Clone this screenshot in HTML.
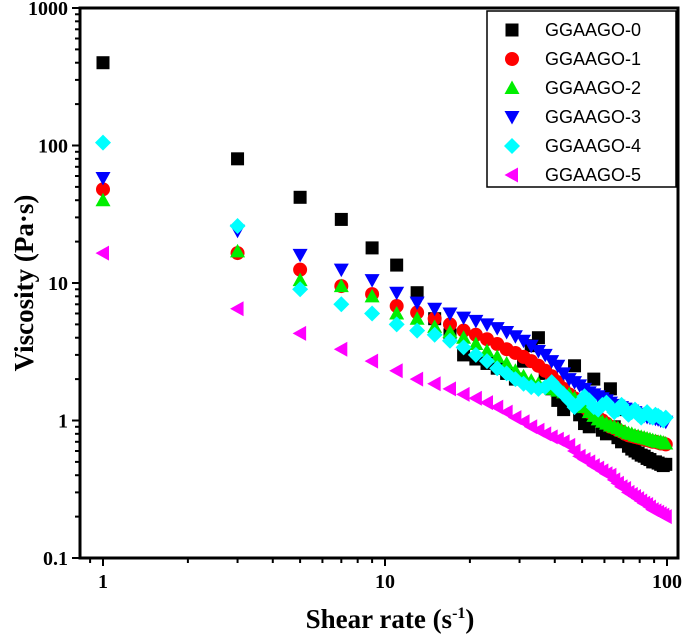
<!DOCTYPE html>
<html><head><meta charset="utf-8"><style>
html,body{margin:0;padding:0;background:#fff;}
svg{display:block;}
text{font-family:"Liberation Serif",serif;font-weight:bold;fill:#000;}
.leg{font-family:"Liberation Sans",sans-serif;font-weight:normal;font-size:18px;}
</style></head><body>
<svg id="chart" width="685" height="635" xmlns="http://www.w3.org/2000/svg"></svg>
<script>
const shearRates = [1,3,5,7,9,11,13,15,17,19,21,23,25,27,29,31,33,35,37,39,41,43,45,47,49,51,53,55,57,59,61,63,65,67,69,71,73,75,77,79,81,83,85,87,89,91,93,95,97,99];
const seriesNames = ["GGAAGO-0","GGAAGO-1","GGAAGO-2","GGAAGO-3","GGAAGO-4","GGAAGO-5"];
const g0 = [400,80,42,29,18,13.5,8.5,5.5,4.2,3.0,2.8,2.6,2.4,2.2,2.0,2.7,3.5,4.0,2.2,1.7,1.4,1.2,1.5,2.5,1.1,0.95,0.9,2.0,1.0,0.85,0.8,1.7,0.9,0.75,0.7,1.2,0.65,0.62,0.6,0.58,0.56,0.55,0.53,0.52,0.5,0.5,0.49,0.48,0.47,0.48];
const g1 = [48,16.5,12.5,9.5,8.3,6.8,6.1,5.5,5,4.5,4.2,3.9,3.6,3.3,3.1,2.9,2.7,2.5,2.3,2.1,1.9,1.7,1.55,1.45,1.35,1.25,1.15,1.1,1.05,1.0,0.95,0.9,0.88,0.85,0.83,0.8,0.78,0.77,0.76,0.75,0.74,0.73,0.72,0.71,0.7,0.7,0.69,0.68,0.68,0.67];
const g2 = [40,17,10.5,9.5,8,6,5.5,4.8,4.4,4,3.6,3.2,2.9,2.6,2.3,2.1,1.95,1.85,1.75,1.7,1.65,1.6,1.55,1.45,1.35,1.25,1.15,1.08,1.02,0.98,0.95,0.92,0.9,0.88,0.85,0.83,0.81,0.8,0.78,0.77,0.76,0.75,0.74,0.73,0.72,0.71,0.7,0.7,0.69,0.68];
const g3 = [58,24,16,12.5,10.5,8.5,7.2,6.5,6,5.6,5.3,5,4.7,4.4,4.1,3.8,3.5,3.2,3,2.7,2.5,2.2,2.0,1.9,1.8,1.7,1.6,1.55,1.5,1.45,1.4,1.35,1.3,1.28,1.25,1.22,1.2,1.18,1.15,1.12,1.1,1.08,1.06,1.05,1.04,1.03,1.02,1.0,1.0,0.98];
const g4 = [105,26,9,7,6,5,4.5,4.2,3.8,3.4,3,2.7,2.4,2.2,2.0,1.85,1.75,1.7,1.75,1.9,1.7,1.55,1.4,1.25,1.35,1.5,1.4,1.25,1.2,1.3,1.35,1.25,1.15,1.2,1.3,1.2,1.1,1.15,1.2,1.1,1.05,1.1,1.15,1.08,1.05,1.1,1.08,1.05,1.0,1.05];
const g5 = [16.5,6.5,4.3,3.3,2.7,2.3,2.0,1.85,1.7,1.55,1.45,1.35,1.25,1.15,1.05,0.98,0.9,0.85,0.8,0.76,0.73,0.7,0.66,0.6,0.55,0.52,0.5,0.47,0.45,0.43,0.41,0.4,0.37,0.35,0.33,0.32,0.3,0.29,0.28,0.27,0.26,0.25,0.245,0.235,0.225,0.22,0.215,0.21,0.205,0.2];
const yTickLabels = ["0.1","1","10","100","1000"];
const yTickValues = [0.1,1,10,100,1000];
const xTickLabels = ["1","10","100"];
const xTickValues = [1,10,100];

const NS="http://www.w3.org/2000/svg";
const svg=document.getElementById('chart');
const L=80,R=678,T=8,B=558;
function X(v){return 103+(Math.log10(v))*282;}
function Y(v){return B-(Math.log10(v)+1)*137.5;}
function mk(tag,attrs){const e=document.createElementNS(NS,tag);for(const k in attrs)e.setAttribute(k,attrs[k]);svg.appendChild(e);return e;}

const colors=["#000000","#ff0000","#00ee00","#0000ff","#00ffff","#ff00ff"];
const shapes=["square","circle","up","down","diamond","left"];
const data=[g0,g1,g2,g3,g4,g5];
function marker(shape,x,y,c){
  let e;const s=7.5;
  if(shape==="square") e=mk('rect',{x:x-6.5,y:y-6.5,width:13,height:13,fill:c});
  else if(shape==="circle") e=mk('circle',{cx:x,cy:y,r:7,fill:c});
  else if(shape==="up") e=mk('polygon',{points:`${x},${y-s} ${x+s},${y+s*0.8} ${x-s},${y+s*0.8}`,fill:c});
  else if(shape==="down") e=mk('polygon',{points:`${x},${y+s} ${x+s},${y-s*0.8} ${x-s},${y-s*0.8}`,fill:c});
  else if(shape==="diamond") e=mk('polygon',{points:`${x},${y-8} ${x+8},${y} ${x},${y+8} ${x-8},${y}`,fill:c});
  else e=mk('polygon',{points:`${x-s},${y} ${x+s*0.8},${y-s} ${x+s*0.8},${y+s}`,fill:c});
  return e;
}
for(let si=0;si<data.length;si++){
  const arr=data[si];
  for(let i=0;i<shearRates.length;i++){
    const e=marker(shapes[si],X(shearRates[i]),Y(arr[i]),colors[si]);
    
    
  }
}
const fr=mk('rect',{x:L,y:T,width:R-L,height:B-T,fill:'none',stroke:'#000','stroke-width':3});


for(let d=-1;d<3;d++){
  for(let m=1;m<10;m++){
    const v=Math.pow(10,d)*m;const y=Y(v);
    const t=mk('line',{x1:L,x2:L-(m===1?8:5),y1:y,y2:y,stroke:'#000','stroke-width':2});
    
    
  }
}
const yt=mk('line',{x1:L,x2:L-8,y1:Y(1000),y2:Y(1000),stroke:'#000','stroke-width':2});


yTickValues.forEach((v,i)=>{
  const t=mk('text',{x:L-12,y:Y(v)+7,'text-anchor':'end','font-size':20});
  t.textContent=yTickLabels[i];
  
  
});
const xMinorVals=[0.8,0.9,1,2,3,4,5,6,7,8,9,10,20,30,40,50,60,70,80,90,100];
xMinorVals.forEach(v=>{
  const x=X(v);if(x<L)return;
  const major=(v===1||v===10||v===100);
  const t=mk('line',{x1:x,x2:x,y1:B,y2:B+(major?8:5),stroke:'#000','stroke-width':2});
  
  
});
xTickValues.forEach((v,i)=>{
  const t=mk('text',{x:X(v),y:B+30,'text-anchor':'middle','font-size':20});
  t.textContent=xTickLabels[i];
  
  
});
const yt2=mk('text',{x:0,y:0,'text-anchor':'middle','font-size':27,transform:'translate(33,283) rotate(-90)'});
yt2.textContent='Viscosity (Pa·s)';


const xt=mk('text',{x:390,y:628,'text-anchor':'middle','font-size':27});
xt.innerHTML='Shear rate (s<tspan dy="-10" font-size="16">-1</tspan><tspan dy="10">)</tspan>';


const lb=mk('rect',{x:487,y:11,width:189,height:176,fill:'#fff',stroke:'#000','stroke-width':1.5});


seriesNames.forEach((n,i)=>{
  const y=30+i*29;
  const m=marker(shapes[i],512,y,colors[i]);
  
  
  const t=mk('text',{x:545,y:y+6,class:'leg'});
  t.textContent=n;
  
  
});
</script>
</body></html>
